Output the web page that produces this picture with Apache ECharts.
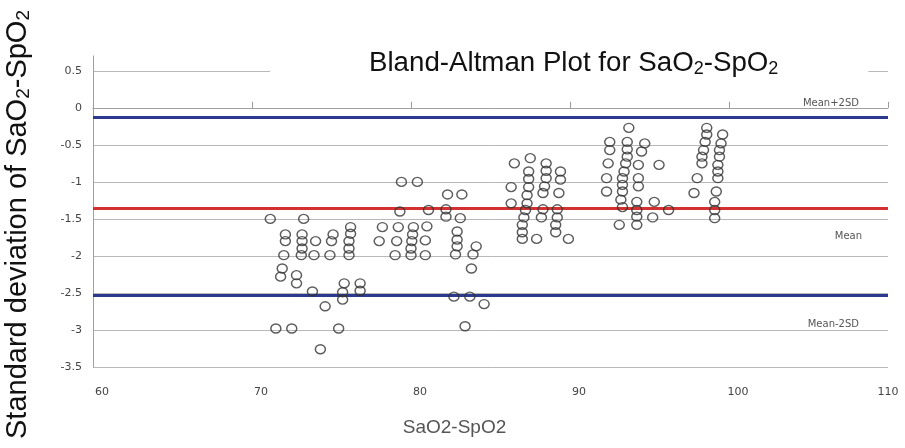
<!DOCTYPE html>
<html>
<head>
<meta charset="utf-8">
<script src="https://cdn.jsdelivr.net/npm/echarts@6/dist/echarts.min.js"></script>
<style>
html,body{margin:0;padding:0;background:#fff;}
#chart{width:905px;height:448px;}
</style>
</head>
<body>
<div id="chart"></div>
<script>
// ---- data ----
var cluster70 = [
  [71.15,-1.50],[73.25,-1.50],
  [76.2,-1.61],[76.2,-1.70],
  [72.1,-1.71],[72.1,-1.80],
  [73.15,-1.71],[73.15,-1.80],[73.15,-1.90],[73.1,-1.99],
  [74.0,-1.80],
  [75.1,-1.71],[75.0,-1.80],
  [76.1,-1.80],[76.1,-1.90],[76.1,-1.99],
  [72.0,-1.99],[73.9,-1.99],[74.9,-1.99],
  [71.9,-2.17],[71.8,-2.28],
  [72.8,-2.26],[72.8,-2.37],
  [73.8,-2.48],[74.6,-2.68],
  [75.8,-2.37],[75.7,-2.49],[75.7,-2.59],
  [76.8,-2.37],[76.8,-2.47],
  [71.5,-2.98],[72.5,-2.98],[75.45,-2.98],
  [74.3,-3.26]
];
var cluster80 = [
  [79.4,-1.0],[80.4,-1.0],[82.3,-1.17],[83.2,-1.17],
  [79.3,-1.4],[81.1,-1.38],[82.2,-1.37],[82.2,-1.47],[83.1,-1.49],
  [78.2,-1.61],[79.2,-1.61],[80.15,-1.61],[81.0,-1.6],
  [80.1,-1.71],
  [78.0,-1.80],[79.1,-1.80],[80.05,-1.80],[80.9,-1.79],
  [80.0,-1.90],
  [79.0,-1.99],[80.0,-1.99],[80.9,-1.99],
  [82.9,-1.67],[82.9,-1.78],[82.9,-1.87],[82.8,-1.98],
  [84.1,-1.87],[83.9,-1.98],[83.8,-2.17],
  [82.7,-2.55],[83.7,-2.55],[84.6,-2.65],[83.4,-2.95]
];
var cluster88 = [
  [87.5,-0.68],[86.5,-0.75],
  [88.5,-0.75],[88.5,-0.85],[88.5,-0.95],[88.4,-1.06],[88.3,-1.15],
  [87.4,-0.86],[87.4,-0.96],[87.4,-1.07],[87.3,-1.18],[87.3,-1.29],[87.2,-1.38],[87.1,-1.48],[87.0,-1.58],[87.0,-1.68],
  [86.3,-1.07],[86.3,-1.29],
  [89.4,-0.86],[89.4,-0.97],[89.3,-1.15],
  [88.3,-1.37],[88.2,-1.48],
  [89.2,-1.37],[89.2,-1.48],[89.1,-1.58],[89.1,-1.68],
  [87.0,-1.77],[87.9,-1.77],[89.9,-1.77]
];
var cluster94 = [
  [93.7,-0.27],
  [92.5,-0.46],[92.5,-0.57],[92.4,-0.75],[92.3,-0.95],[92.3,-1.13],
  [93.6,-0.46],[93.6,-0.56],[93.6,-0.66],[93.5,-0.75],[93.4,-0.86],[93.3,-0.95],[93.3,-1.04],[93.3,-1.13],[93.2,-1.24],[93.3,-1.34],[93.1,-1.58],
  [94.7,-0.48],[94.5,-0.59],[94.3,-0.77],[94.3,-0.95],[94.3,-1.06],
  [95.6,-0.77],
  [94.2,-1.27],[94.2,-1.38],[94.2,-1.47],[94.2,-1.58],
  [95.3,-1.27],[95.2,-1.48],[96.2,-1.38]
];
var cluster99 = [
  [98.6,-0.27],[98.6,-0.36],[98.5,-0.46],[98.4,-0.57],[98.3,-0.66],[98.3,-0.75],[98.0,-0.95],[97.8,-1.15],
  [99.6,-0.36],[99.5,-0.48],[99.4,-0.57],[99.4,-0.66],[99.3,-0.77],[99.3,-0.86],[99.3,-0.95],[99.2,-1.13],[99.1,-1.27],[99.1,-1.38],[99.1,-1.49]
];
var meanPlus2SD = -0.13;
var meanValue = -1.36;
var meanMinus2SD = -2.53;
var xTicks = [60, 70, 80, 90, 100, 110];
var yTicks = [-3.5, -3, -2.5, -2, -1.5, -1, -0.5, 0, 0.5];

var points = [].concat(cluster70, cluster80, cluster88, cluster94, cluster99);

var chart = echarts.init(document.getElementById('chart'), null, {renderer: 'canvas'});
var labelFont = 'DejaVu Sans';
chart.setOption({
  animation: false,
  backgroundColor: '#ffffff',
  title: {
    text: 'Bland-Altman Plot for SaO{sub|2}-SpO{sub|2}',
    left: 270,
    top: 46,
    padding: [2, 90, 2, 99],
    backgroundColor: '#ffffff',
    textStyle: {
      fontFamily: 'Liberation Sans',
      fontSize: 27.7,
      fontWeight: 'normal',
      color: '#111',
      lineHeight: 30,
      rich: {
        sub: {fontFamily: 'Liberation Sans', fontSize: 18, lineHeight: 18, padding: [12, 0, 0, 0], color: '#111'}
      }
    }
  },
  grid: {left: 93, right: 17, top: 56, bottom: 81, containLabel: false, outerBoundsMode: 'none'},
  xAxis: {
    type: 'value',
    min: xTicks[0],
    max: xTicks[xTicks.length - 1],
    interval: 10,
    name: 'SaO2-SpO2',
    nameLocation: 'middle',
    nameGap: 51,
    nameTextStyle: {fontFamily: 'Liberation Sans', fontSize: 19, color: '#555', padding: [0, 72, 0, 0]},
    axisLine: {show: true, lineStyle: {color: '#a0a0a0', width: 1}},
    axisTick: {show: true, inside: true, length: 6, lineStyle: {color: '#999'}},
    axisLabel: {
      fontFamily: labelFont, fontSize: 11, color: '#444', margin: 20,
      formatter: function (v) {
        return v === xTicks[xTicks.length - 1] ? '{e|' + v + '}' : '{n|' + v + '}';
      },
      rich: {
        n: {fontFamily: labelFont, fontSize: 11, color: '#444', padding: [0, 0, 0, 18]},
        e: {fontFamily: labelFont, fontSize: 11, color: '#444'}
      }
    },
    splitLine: {show: false}
  },
  yAxis: {
    type: 'value',
    min: yTicks[0],
    max: 0.7,
    interval: 0.5,
    name: 'Standard deviation of SaO{sub|2}-SpO{sub|2}',
    nameLocation: 'middle',
    nameRotate: 90,
    nameGap: 60,
    nameTextStyle: {
      fontFamily: 'Liberation Sans', fontSize: 29, color: '#111', lineHeight: 30,
      padding: [0, 26, 0, 0],
      rich: {sub: {fontFamily: 'Liberation Sans', fontSize: 19, lineHeight: 19, padding: [12, 0, 0, 0], color: '#111'}}
    },
    axisLine: {show: true, lineStyle: {color: '#a0a0a0', width: 1}},
    axisTick: {show: false},
    axisLabel: {
      fontFamily: labelFont, fontSize: 11, color: '#444', margin: 11, showMaxLabel: false,
      formatter: function (v) { return yTicks.indexOf(v) >= 0 ? String(v) : ''; }
    },
    splitLine: {show: true, showMaxLine: false, lineStyle: {color: '#b8b8b8', width: 1}}
  },
  series: [{
    type: 'scatter',
    data: points,
    symbol: 'circle',
    symbolSize: [10, 9],
    itemStyle: {color: 'rgba(255,255,255,0)', borderColor: '#333', borderWidth: 1.4},
    z: 3,
    markLine: {
      silent: true,
      symbol: 'none',
      animation: false,
      z: 2,
      data: [
        {yAxis: meanPlus2SD, lineStyle: {color: '#2b3a8e', width: 3, type: 'solid'},
         label: {show: true, position: 'insideEndTop', formatter: 'Mean+2SD', distance: [29, 9], fontFamily: labelFont, fontSize: 10, color: '#555'}},
        {yAxis: meanValue, lineStyle: {color: '#d3312f', width: 3, type: 'solid'},
         label: {show: true, position: 'insideEndBottom', formatter: 'Mean', distance: [26, 23], fontFamily: labelFont, fontSize: 10, color: '#555'}},
        {yAxis: meanMinus2SD, lineStyle: {color: '#2b3a8e', width: 3, type: 'solid'},
         label: {show: true, position: 'insideEndBottom', formatter: 'Mean-2SD', distance: [29, 24], fontFamily: labelFont, fontSize: 10, color: '#555'}}
      ]
    }
  }]
});
</script>
</body>
</html>
